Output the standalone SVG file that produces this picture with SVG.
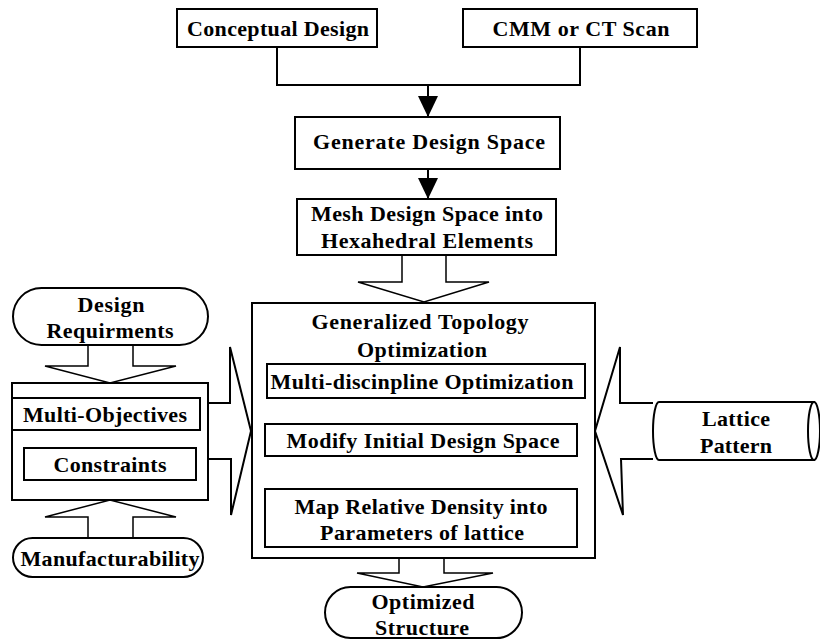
<svg xmlns="http://www.w3.org/2000/svg" width="820" height="639" viewBox="0 0 820 639">
<style>
.b{fill:#fff;stroke:#000;stroke-width:2}
.l{fill:none;stroke:#000;stroke-width:2}
.h{fill:#fff;stroke:#000;stroke-width:1.5}
text{font-family:"Liberation Serif","Times New Roman",serif;font-weight:bold;font-size:22px;text-anchor:middle;fill:#000}
</style>
<defs>
<marker id="ah" markerUnits="userSpaceOnUse" markerWidth="22" markerHeight="22" refX="21" refY="10" orient="auto">
<path d="M0,0 L21,10 L0,20 Z" fill="#000"/>
</marker>
</defs>
<rect width="820" height="639" fill="#fff"/>
<g id="connectors">
<path class="l" d="M277,47 V85 H580 V47"/>
<path class="l" d="M428,85 V117" marker-end="url(#ah)"/>
<path class="l" d="M428,169 V199" marker-end="url(#ah)"/>
<path class="l" d="M424,398 V424" marker-end="url(#ah)"/>
<path class="l" d="M424,456 V489" marker-end="url(#ah)"/>
<path class="h" d="M402,255 V282 H358 L424,302 L489,282 H446 V255"/>
<path class="h" d="M399,558 V573 H357 L423,587 L493,573 H444 V558"/>
<path class="h" d="M88,345 V366 H45 L110,383 L176,366 H133 V345"/>
<path class="h" d="M88,538 V517 H45 L110,500 L176,517 H133 V538"/>
<path class="b" d="M208,403 H230 V347 L251,431 L231,515 V459 H208"/>
<path class="b" d="M653,403 H620 V347 L595,431 L623,515 L621,459 H653"/>
</g>
<g id="conceptual">
<rect class="b" x="177" y="9" width="200" height="38"/>
<text x="278" y="36" textLength="182" lengthAdjust="spacing">Conceptual Design</text>
</g>
<g id="cmm">
<rect class="b" x="463" y="9" width="234" height="38"/>
<text x="581" y="36" textLength="177" lengthAdjust="spacing">CMM or CT Scan</text>
</g>
<g id="generate">
<rect class="b" x="295" y="117" width="265" height="52"/>
<text x="429" y="149" textLength="232" lengthAdjust="spacing">Generate Design Space</text>
</g>
<g id="mesh">
<rect class="b" x="297" y="199" width="259" height="56"/>
<text x="427" y="221" textLength="232" lengthAdjust="spacing">Mesh Design Space into</text>
<text x="427" y="248" textLength="212" lengthAdjust="spacing">Hexahedral Elements</text>
</g>
<g id="gto">
<rect class="b" x="252" y="303" width="343" height="255"/>
<text x="420" y="329" textLength="217" lengthAdjust="spacing">Generalized Topology</text>
<text x="422" y="357" textLength="130" lengthAdjust="spacing">Optimization</text>
</g>
<g id="mdo">
<rect class="b" x="267" y="364" width="318" height="34"/>
<text x="422" y="389" textLength="303" lengthAdjust="spacing">Multi-discinpline Optimization</text>
</g>
<g id="modify">
<rect class="b" x="265" y="424" width="312" height="32"/>
<text x="423" y="448" textLength="273" lengthAdjust="spacing">Modify Initial Design Space</text>
</g>
<g id="map">
<rect class="b" x="265" y="489" width="312" height="58"/>
<text x="421" y="514" textLength="253" lengthAdjust="spacing">Map Relative Density into</text>
<text x="422" y="540" textLength="204" lengthAdjust="spacing">Parameters of lattice</text>
</g>
<g id="optimized">
<rect class="b" x="325" y="587" width="197" height="51" rx="25.5"/>
<text x="423" y="609" textLength="103" lengthAdjust="spacing">Optimized</text>
<text x="422" y="635" textLength="94" lengthAdjust="spacing">Structure</text>
</g>
<g id="requirements">
<rect class="b" x="13" y="288" width="195" height="57" rx="28.5"/>
<text x="111" y="312" textLength="67" lengthAdjust="spacing">Design</text>
<text x="110" y="338" textLength="127" lengthAdjust="spacing">Requirments</text>
</g>
<g id="objbox">
<rect class="b" x="12" y="383" width="196" height="117"/>
</g>
<g id="multiobj">
<rect class="b" x="12" y="398" width="188" height="32"/>
<text x="105" y="422" textLength="164" lengthAdjust="spacing">Multi-Objectives</text>
</g>
<g id="constraints">
<rect class="b" x="24" y="448" width="172" height="32"/>
<text x="110" y="472" textLength="113" lengthAdjust="spacing">Constraints</text>
</g>
<g id="manufacturability">
<rect class="b" x="13" y="538" width="190" height="39" rx="19.5"/>
<text x="110" y="566" textLength="179" lengthAdjust="spacing">Manufacturability</text>
</g>
<g id="lattice">
<path class="b" d="M659,402 H814 V460 H659 A6,29 0 0 1 659,402 Z"/>
<ellipse class="b" cx="814" cy="431" rx="6" ry="29"/>
<text x="736" y="426" textLength="68" lengthAdjust="spacing">Lattice</text>
<text x="736" y="453" textLength="72" lengthAdjust="spacing">Pattern</text>
</g>
</svg>
